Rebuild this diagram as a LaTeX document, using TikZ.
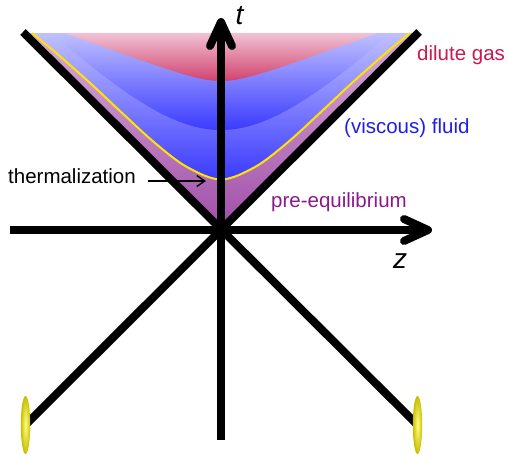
\documentclass[tikz,border=0pt]{standalone}
\usepackage{fontspec}
\setmainfont{Liberation Sans}
\usetikzlibrary{arrows.meta}
\definecolor{redTop}{RGB}{242,194,212}
\definecolor{redBot}{RGB}{208,66,110}
\definecolor{blueTop}{RGB}{192,192,255}
\definecolor{blueBot}{RGB}{58,58,255}
\definecolor{purpTop}{RGB}{216,172,216}
\definecolor{purpBot}{RGB}{160,78,168}
\definecolor{dilutecol}{RGB}{200,25,80}
\definecolor{fluidcol}{RGB}{30,30,235}
\definecolor{preeqcol}{RGB}{140,25,140}
\definecolor{thermyellow}{RGB}{255,228,0}
\definecolor{beamIn}{RGB}{255,255,130}
\definecolor{beamOut}{RGB}{200,190,0}
\newcommand{\thermcurve}{plot[smooth,tension=0.55] coordinates {(32,33) (55,52) (89,82) (120,111) (155,143) (187,167) (221,179.5) (255,167) (287,143) (322,111) (353,82) (387,52) (410,33)}}
\begin{document}
\begin{tikzpicture}[x=1pt,y=-1pt,
  lbl/.style={inner sep=0pt,anchor=base west,font=\fontsize{20.5}{24}\selectfont},
  axlbl/.style={inner sep=0pt,font=\fontsize{28}{32}\selectfont\itshape},
  thick black/.style={line width=8pt,black},
  conestyle/.style={line width=8pt,black},
  chev/.style={line width=8pt,black,line cap=round,line join=round},
  beam/.style={inner color=beamIn,outer color=beamOut}]
\useasboundingbox (0,0) rectangle (509,455);
% regions
\shade[top color=purpTop,bottom color=purpBot] (24,33) -- (221,230) -- (418,33) -- cycle;
\shade[top color=blueTop,bottom color=blueBot] \thermcurve -- cycle;
\shade[top color=blueTop,bottom color=blueBot]
  plot[domain=-169.7:169.7,samples=120] ({221+\x},{230-10*sqrt((\x/10)^2+100)}) -- cycle;
\shade[top color=redTop,bottom color=redBot]
  plot[domain=-155.9:155.9,samples=120] ({221+\x},{81-0.37*(10*sqrt((\x/10)^2+8.29)-28.8)}) -- cycle;
% thermalization curve
\draw[thermyellow,line width=2pt] \thermcurve;
% light cone
\coordinate (O) at (221,230);
\coordinate (tl) at (23,32);
\coordinate (tr) at (419,32);
\coordinate (bl) at (25.5,425);
\coordinate (br) at (417.5,425);
\draw[conestyle] (tl) -- (br);
\draw[conestyle] (tr) -- (bl);
% axes
\coordinate (tbot) at (221,440);
\coordinate (ttip) at (221,22);
\coordinate (zleft) at (10,230);
\coordinate (ztip) at (428,230);
\draw[thick black] (tbot) -- (ttip);
\draw[chev] (210,46) -- (ttip) -- (232,46);
\draw[thick black] (zleft) -- (ztip);
\draw[chev] (404,219) -- (ztip) -- (404,241);
% beams
\shade[beam] (bl) ellipse [x radius=4.7,y radius=29];
\shade[beam] (br) ellipse [x radius=4.7,y radius=29];
% labels
\node[axlbl] (tlabel) at (239.5,16) {t};
\node[axlbl] (zlabel) at (400,261) {z};
\node[lbl,text=dilutecol] (dilute) at (417,60) {dilute gas};
\node[lbl,text=fluidcol] (fluid) at (344,133) {(viscous) fluid};
\node[lbl,text=preeqcol] (preeq) at (271,207) {pre-equilibrium};
\node[lbl] (therm) at (8,183) {thermalization};
\coordinate (thstart) at (148,181);
\coordinate (thend) at (206,181);
\draw[line width=1.4pt,-{Straight Barb[length=8pt,width=11pt]}] (thstart) -- (thend);
\end{tikzpicture}
\end{document}
